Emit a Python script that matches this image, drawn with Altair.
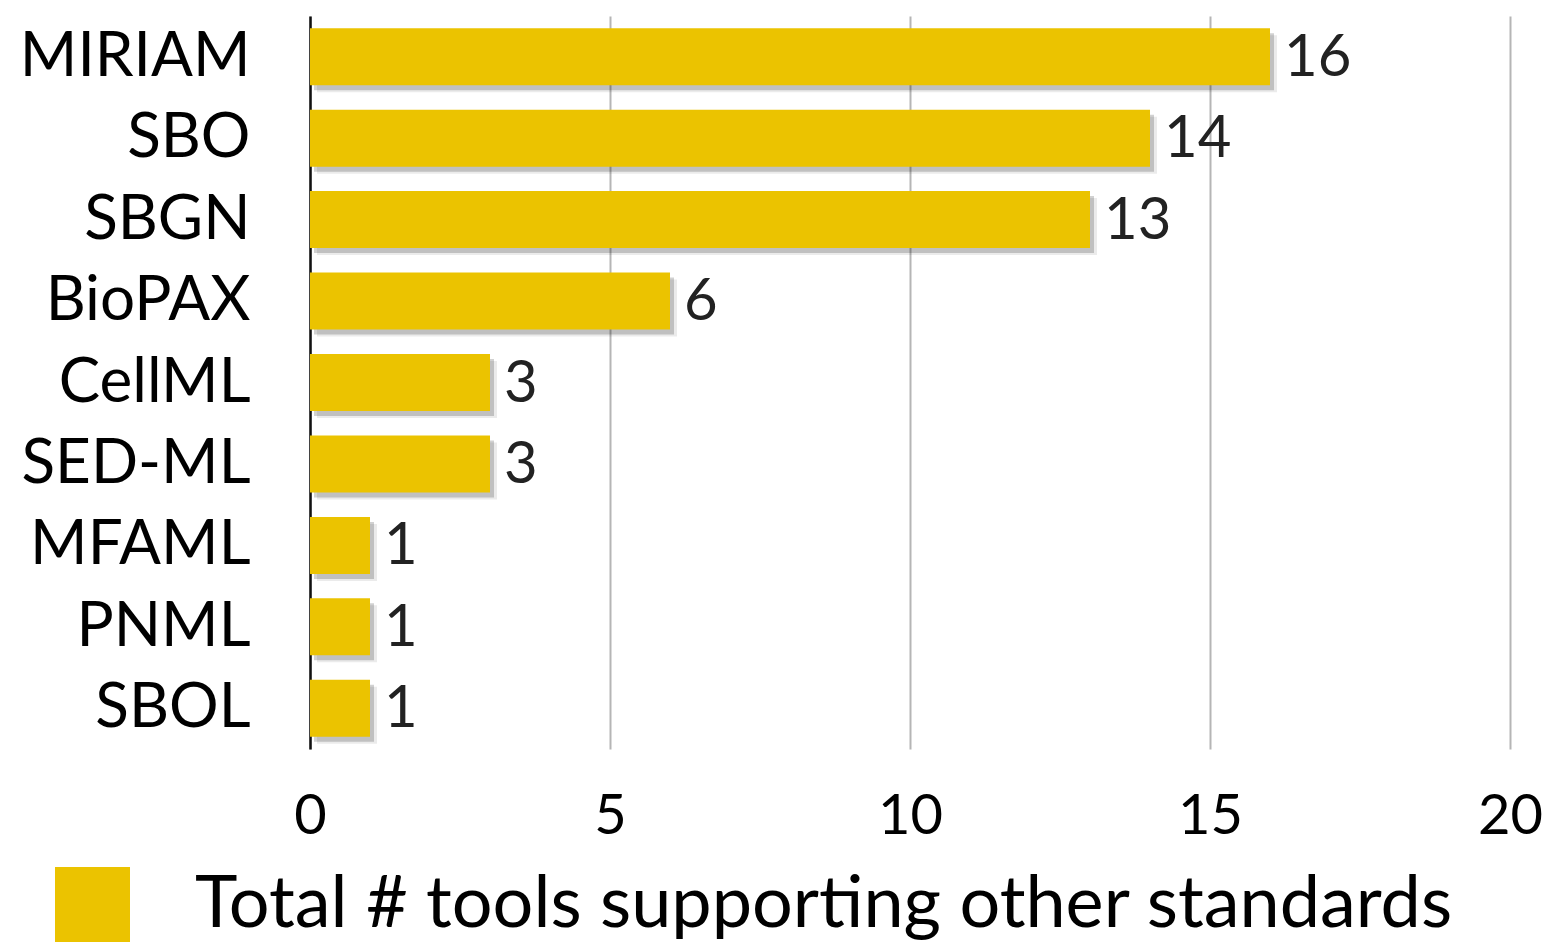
import altair as alt
import pandas as pd

categories = ["MIRIAM", "SBO", "SBGN", "BioPAX", "CellML", "SED-ML", "MFAML", "PNML", "SBOL"]
values = [16, 14, 13, 6, 3, 3, 1, 1, 1]
series_name = "Total # tools supporting other standards"
x_ticks = [0, 5, 10, 15, 20]

df = pd.DataFrame({"standard": categories, "count": values, "series": [series_name] * len(categories)})

FONT = "Lato"
BAR = "#EBC300"

y_enc = alt.Y("standard:N", sort=categories, title=None,
              scale=alt.Scale(paddingInner=0.3, paddingOuter=0.15),
              axis=alt.Axis(labelFont=FONT, labelFontSize=62, labelColor="#000",
                            labelPadding=60, ticks=False, domain=True,
                            domainColor="#111", domainWidth=2.5, grid=False, labelLimit=400))
x_enc = alt.X("count:Q", title=None,
              scale=alt.Scale(domain=[0, 20], nice=False, zero=True),
              axis=alt.Axis(values=x_ticks, format="d", labelFont=FONT, labelFontSize=56,
                            labelColor="#000", labelPadding=40, ticks=False, domain=False,
                            grid=True, gridColor="#b5b5b5", gridWidth=2, labelFlush=False))

base = alt.Chart(df)

shadow = base.mark_bar(color="#000", opacity=0.18, xOffset=4, yOffset=5).encode(
    x=x_enc, y=y_enc)
shadow2 = base.mark_bar(color="#000", opacity=0.08, xOffset=7, yOffset=7).encode(
    x=x_enc, y=y_enc)

bars = base.mark_bar().encode(
    x=x_enc, y=y_enc,
    color=alt.Color("series:N", scale=alt.Scale(range=[BAR]), title=None,
                    legend=alt.Legend(orient="none", legendX=-255, legendY=851,
                                      symbolType="square", symbolSize=5625,
                                      symbolStrokeWidth=0, symbolOpacity=1,
                                      labelFont=FONT, labelFontSize=72, labelColor="#000",
                                      labelOffset=65, labelLimit=2000, padding=0)))

labels = base.mark_text(align="left", baseline="middle", dx=14, dy=2, font=FONT,
                        fontSize=58, color="#222").encode(
    x="count:Q", y=alt.Y("standard:N", sort=categories), text="count:Q")

chart = alt.layer(shadow2, shadow, bars, labels).properties(
    width=1200, height=733,
    autosize=alt.AutoSizeParams(type="none"),
    padding={"left": 302, "top": 8, "right": 40, "bottom": 195},
).configure_view(stroke=None)

chart.save("out.html", embed_options={"renderer": "svg", "actions": False})
